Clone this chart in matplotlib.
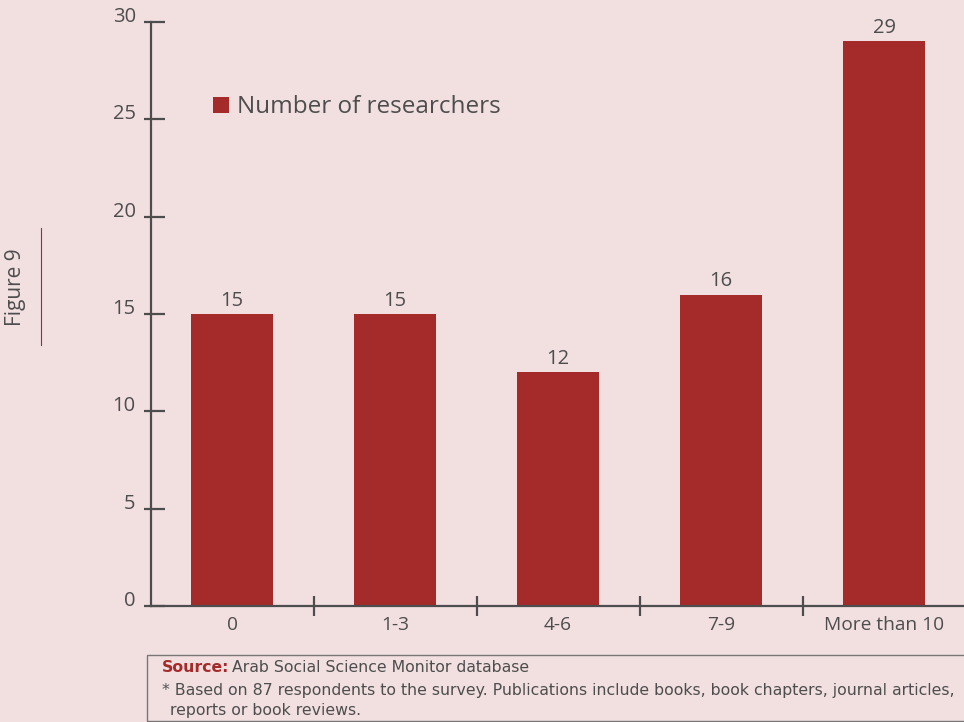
import matplotlib.pyplot as plt
from matplotlib.patches import Rectangle
from matplotlib.lines import Line2D

# Data
categories = ['0', '1-3', '4-6', '7-9', 'More than 10']
researchers = [15, 15, 12, 16, 29]
y_ticks = [0, 5, 10, 15, 20, 25, 30]

bg = '#F2E0E1'
bar_color = '#A52A2A'
axis_color = '#4D4D4D'
text_color = '#4D4D4D'

W, H = 964, 722
fig = plt.figure(figsize=(W / 100, H / 100), dpi=100, facecolor=bg)
plt.rcParams['font.family'] = ['Open Sans', 'DejaVu Sans']

ax = fig.add_axes([151 / W, (H - 606) / H, (W - 151) / W, (606 - 22) / H])
ax.set_facecolor(bg)

x = list(range(len(categories)))
bars = ax.bar(x, researchers, width=0.5, color=bar_color, label='Number of researchers', zorder=2)

ax.set_xlim(-0.497, 4.49)
ax.set_ylim(0, 30)

for s in ['top', 'right']:
    ax.spines[s].set_visible(False)
for s in ['left', 'bottom']:
    ax.spines[s].set_color(axis_color)
    ax.spines[s].set_linewidth(1.6)
    ax.spines[s].set_zorder(3)

# y ticks: longer inside, short stub outside
ax.set_yticks(y_ticks)
ax.set_yticklabels([str(v) for v in y_ticks])
ax.set_yticks(y_ticks, minor=True)
ax.yaxis.remove_overlapping_locs = False
ax.tick_params(axis='y', which='major', direction='in', length=10, width=1.6, color=axis_color,
               labelsize=14.5, labelcolor=text_color, pad=11)
ax.tick_params(axis='y', which='minor', direction='out', length=5, width=1.6, color=axis_color)
for lbl in ax.get_yticklabels():
    lbl.set_va('baseline')

ax.set_xticks([i + 0.5 for i in x[:-1]])
ax.set_xticklabels([])
ax.tick_params(axis='x', direction='inout', length=14, width=1.6, color=axis_color)
for i, c in enumerate(categories):
    ax.text(i, -0.5, c, ha='center', va='top', fontsize=13.8, color=text_color)

for rect, v in zip(bars, researchers):
    ax.annotate(f'{v}', xy=(rect.get_x() + rect.get_width() / 2, v),
                xytext=(0, 2.5), textcoords='offset points',
                ha='center', va='bottom', fontsize=14.5, color=text_color)

# Legend
leg = ax.legend(loc='upper left', bbox_to_anchor=(0.064, 0.891), frameon=False,
                fontsize=17.5, handlelength=0.65, handleheight=0.65, handletextpad=0.35,
                labelcolor=text_color, borderaxespad=0)

# Figure label on the left
fig.text(15 / W, 1 - 287 / H, 'Figure 9', rotation=90, ha='center', va='center',
         fontsize=15, color=text_color)
fig.add_artist(Line2D([41 / W, 41 / W], [1 - 228 / H, 1 - 345 / H], color=bar_color,
                      lw=0.8, transform=fig.transFigure))

# Footer box
fig.add_artist(Rectangle((147 / W, 1 - 721 / H), (W - 147 + 5) / W, 66 / H,
                         transform=fig.transFigure, fill=False, edgecolor='#777777', lw=1))
foot_font = ['Liberation Sans Narrow', 'DejaVu Sans']
fs = 11.3
t1 = fig.text(162 / W, 1 - 668 / H, 'Source:', fontsize=fs, color=bar_color,
              fontweight='bold', va='center', family=foot_font)
fig.canvas.draw()
bb = t1.get_window_extent()
fig.text(bb.x1 / W + 3 / W, 1 - 668 / H, 'Arab Social Science Monitor database', fontsize=fs,
         color=text_color, va='center', family=foot_font)
fig.text(162 / W, 1 - 690 / H,
         '* Based on 87 respondents to the survey. Publications include books, book chapters, journal articles,',
         fontsize=fs, color=text_color, va='center', family=foot_font)
fig.text(170 / W, 1 - 711 / H, 'reports or book reviews.', fontsize=fs,
         color=text_color, va='center', family=foot_font)

fig.savefig('out.png', dpi=100, facecolor=bg)
